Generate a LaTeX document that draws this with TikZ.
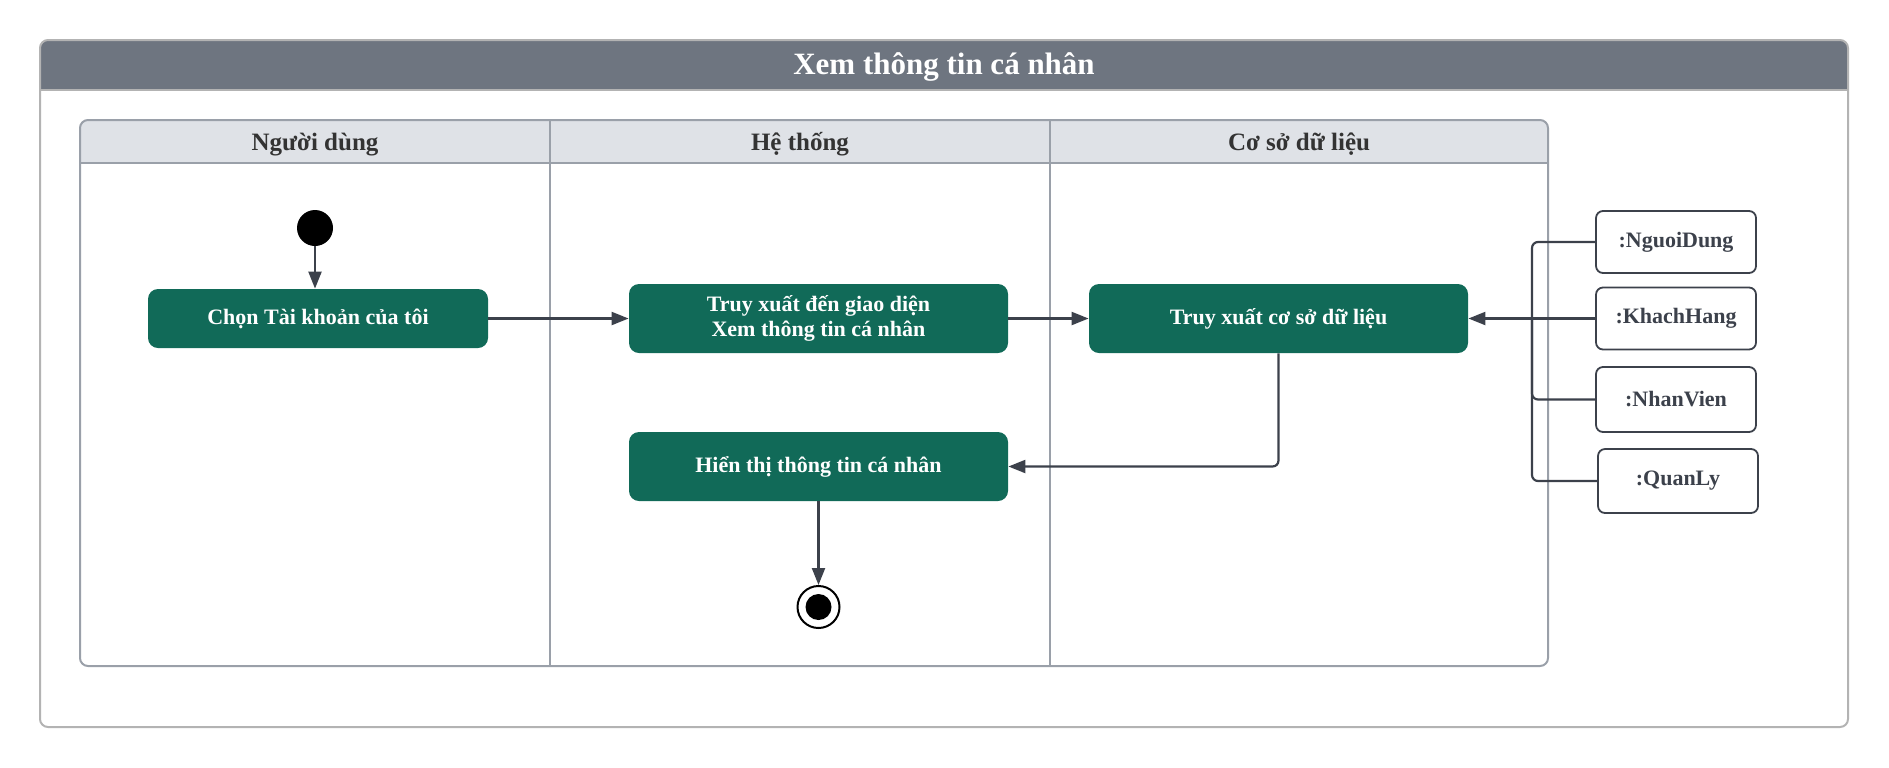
\documentclass[tikz,border=0pt]{standalone}
\usepackage{fontspec}
\setmainfont{Liberation Serif}
\usepackage{xcolor}
\usepackage{tikz}
\usetikzlibrary{arrows.meta}
\usetikzlibrary{positioning}
\definecolor{framegray}{HTML}{B3B3B3}
\definecolor{titlegray}{HTML}{6E7580}
\definecolor{lanehead}{HTML}{DFE2E7}
\definecolor{laneline}{HTML}{9AA0A9}
\definecolor{actgreen}{HTML}{116A58}
\definecolor{linedark}{HTML}{3C414B}

\tikzset{
  action/.style={fill=actgreen, rounded corners=5pt, text=white, align=center,
    font=\bfseries\fontsize{11}{12.5}\selectfont, inner sep=0pt,
    minimum width=189.5pt, minimum height=34.5pt},
  objbox/.style={draw=linedark, line width=0.9pt, fill=white, rounded corners=3.5pt,
    text=linedark, font=\bfseries\fontsize{11}{13}\selectfont, inner sep=0pt,
    minimum width=80pt, minimum height=31pt},
  flow/.style={draw=linedark, line width=1.1pt, rounded corners=3pt,
    -{Triangle[length=8.5pt,width=6.5pt]}},
  merge/.style={draw=linedark, line width=1.1pt, rounded corners=3pt},
  lanetitle/.style={text=black!80, font=\bfseries\fontsize{12.5}{14}\selectfont}
}

\begin{document}
\begin{tikzpicture}[x=0.5pt,y=-0.5pt]
\useasboundingbox (0,0) rectangle (1889,767);

% outer frame with title bar
\fill[titlegray, rounded corners=4pt] (40,40) rectangle (1848,90);
\fill[titlegray] (40,70) rectangle (1848,90);
\draw[framegray, line width=1pt, rounded corners=4pt] (40,40) rectangle (1848,727);
\draw[framegray, line width=1pt] (40,90) -- (1848,90);
\node[text=white, font=\bfseries\fontsize{15.5}{18}\selectfont] (title) at (944,67) {Xem thông tin cá nhân};

% swimlanes
\fill[lanehead, rounded corners=4pt] (80,120) rectangle (1548,163);
\fill[lanehead] (80,145) rectangle (1548,163);
\draw[laneline, line width=1pt, rounded corners=4pt] (80,120) rectangle (1548,666);
\draw[laneline, line width=1pt] (80,163) -- (1548,163);
\draw[laneline, line width=1pt] (550,120) -- (550,666);
\draw[laneline, line width=1pt] (1050,120) -- (1050,666);
\node[lanetitle] (lane1) at (315,144.5) {Người dùng};
\node[lanetitle] (lane2) at (800,144.5) {Hệ thống};
\node[lanetitle] (lane3) at (1299,144.5) {Cơ sở dữ liệu};

% activities
\node[circle, fill=black, minimum size=18pt, inner sep=0pt] (start) at (315,228) {};
\node[action, minimum width=170pt, minimum height=29.5pt] (chon) at (318,318.5) {Chọn Tài khoản của tôi};
\node[action] (giaodien) at (818.5,318.5) {Truy xuất đến giao diện\\Xem thông tin cá nhân};
\node[action] (truyxuat) at (1278.5,318.5) {Truy xuất cơ sở dữ liệu};
\node[action] (hienthi) at (818.5,466.5) {Hiển thị thông tin cá nhân};
\node[circle, draw=black, line width=1pt, fill=white, minimum size=21pt, inner sep=0pt] (stop) at (818.5,607) {};
\fill[black] (stop) circle (6.5pt);

% data objects
\node[objbox] (nguoidung) at (1676,242) {:NguoiDung};
\node[objbox] (khachhang) at (1676,318.5) {:KhachHang};
\node[objbox, minimum height=32.5pt] (nhanvien) at (1676,399.5) {:NhanVien};
\node[objbox, minimum height=32pt] (quanly) at (1678,481) {:QuanLy};
\coordinate (hub) at (1532,318.5);

% flows
\draw[flow] (start) -- (start |- chon.north);
\draw[flow] (chon) -- (giaodien);
\draw[flow] (giaodien) -- (truyxuat);
\draw[flow] (truyxuat.south) |- (hienthi.east);
\draw[flow] (hienthi) -- (stop);
\draw[merge] (nguoidung.west) -- (nguoidung.west -| hub) -- (hub);
\draw[merge] (nhanvien.west) -- (nhanvien.west -| hub) -- (hub);
\draw[merge] (quanly.west) -- (quanly.west -| hub) -- (hub);
\draw[merge] (khachhang.west) -- (hub);
\draw[flow] (hub) -- (truyxuat.east);
\end{tikzpicture}
\end{document}
